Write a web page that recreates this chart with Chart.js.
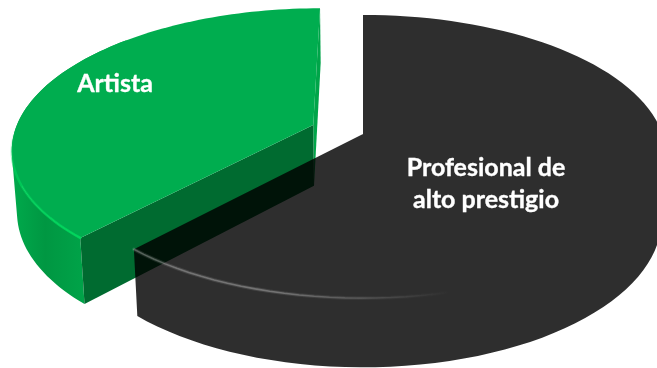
<!DOCTYPE html>
<html>
<head>
<meta charset="utf-8">
<title>Profesional de alto prestigio / Artista</title>
<script src="https://cdn.jsdelivr.net/npm/chart.js@4"></script>
<style>
    html, body { margin: 0; padding: 0; background: #fff; overflow: hidden; }
    #wrap { position: relative; width: 657px; height: 368px; }
</style>
</head>
<body>
<div id="wrap"><canvas id="pieChart"></canvas></div>
<script>
// Slices, clockwise from 12 o'clock
const categories = [['Profesional de', 'alto prestigio'], ['Artista']];
const shares = [61.8, 38.2];
const sliceBlown = [0, 0.18];

// Tilted-disc camera, in units of the chart radius
const tilt = { sx: 2.235, sy: 1.03, k: 0.159, depth: 61, wallSx: 0.985, wallSy: 1.05 };

// Map a point of the unit disc to the screen, on the top face or the bottom face
function project(arc, u, v, bottom) {
    const w = 1 - tilt.k * v;
    const r = arc.outerRadius;
    const ax = bottom ? tilt.sx * tilt.wallSx : tilt.sx;
    const ay = bottom ? tilt.sy * tilt.wallSy : tilt.sy;
    return {
        x: arc.x + r * ax * u / w,
        y: arc.y + (bottom ? tilt.depth : 0) + r * ay * v / w
    };
}

// Sample the rim of a slice between its two library angles
function rimPoints(arc, blown, bottom) {
    const mid = (arc.startAngle + arc.endAngle) / 2;
    const ox = Math.cos(mid) * blown, oy = Math.sin(mid) * blown;
    const pts = [];
    const steps = 90;
    for (let i = 0; i <= steps; i++) {
        const a = arc.startAngle + (arc.endAngle - arc.startAngle) * i / steps;
        pts.push(project(arc, ox + Math.cos(a), oy + Math.sin(a), bottom));
    }
    return pts;
}

function apexPoint(arc, blown, bottom) {
    const mid = (arc.startAngle + arc.endAngle) / 2;
    return project(arc, Math.cos(mid) * blown, Math.sin(mid) * blown, bottom);
}

// Add a polygon with a fixed winding so overlapping pieces fill as one shape
function addPoly(ctx, pts) {
    let area = 0;
    pts.forEach((p, i) => {
        const q = pts[(i + 1) % pts.length];
        area += p.x * q.y - q.x * p.y;
    });
    const list = area < 0 ? pts.slice().reverse() : pts;
    ctx.moveTo(list[0].x, list[0].y);
    list.slice(1).forEach(p => ctx.lineTo(p.x, p.y));
    ctx.closePath();
}

function addWall(ctx, topRim, botRim, count) {
    for (let i = 1; i <= count; i++) {
        addPoly(ctx, [topRim[i - 1], topRim[i], botRim[i], botRim[i - 1]]);
    }
}

function fillPoly(ctx, pts, fill) {
    ctx.beginPath();
    addPoly(ctx, pts);
    ctx.fillStyle = fill;
    ctx.fill();
}

function strokeLine(ctx, pts, style, width) {
    ctx.beginPath();
    pts.forEach((p, i) => i ? ctx.lineTo(p.x, p.y) : ctx.moveTo(p.x, p.y));
    ctx.strokeStyle = style;
    ctx.lineWidth = width;
    ctx.lineCap = 'round';
    ctx.stroke();
}

// Green slice: walls first, then the top face and the lit rim
function drawGreenSlice(ctx, arc, blown) {
    const topRim = rimPoints(arc, blown, false);
    const botRim = rimPoints(arc, blown, true);
    const apexTop = apexPoint(arc, blown, false);
    const apexBot = apexPoint(arc, blown, true);

    // Far cut wall, only a sliver of it shows past the top face
    fillPoly(ctx, [topRim[90], apexTop, apexBot, botRim[90]], '#00a549');

    const wallFill = ctx.createLinearGradient(12, 0, 86, 0);
    wallFill.addColorStop(0, '#00aa4c');
    wallFill.addColorStop(0.45, '#009742');
    wallFill.addColorStop(1, '#00a449');
    ctx.beginPath();
    addWall(ctx, topRim, botRim, 60);
    ctx.fillStyle = wallFill;
    ctx.fill();

    fillPoly(ctx, [topRim[0], apexTop, apexBot, botRim[0]], '#006b30');

    fillPoly(ctx, topRim.concat([apexTop]), '#00ad4f');

    const rimLight = ctx.createLinearGradient(80, 236, 14, 130);
    rimLight.addColorStop(0, 'rgba(0, 214, 92, 0.95)');
    rimLight.addColorStop(0.7, 'rgba(0, 214, 92, 0.6)');
    rimLight.addColorStop(1, 'rgba(0, 214, 92, 0)');
    strokeLine(ctx, topRim.slice(0, 40), rimLight, 2.4);
}

// Dark slice: see-through black, top and walls filled as a single shape
function drawDarkSlice(ctx, arc, blown) {
    const topRim = rimPoints(arc, blown, false);
    const botRim = rimPoints(arc, blown, true);
    const apexTop = apexPoint(arc, blown, false);
    const apexBot = apexPoint(arc, blown, true);

    ctx.beginPath();
    addPoly(ctx, topRim.concat([apexTop]));
    addPoly(ctx, botRim.concat([apexBot]));
    addWall(ctx, topRim, botRim, 90);
    addPoly(ctx, [topRim[90], apexTop, apexBot, botRim[90]]);
    ctx.fillStyle = 'rgba(0, 0, 0, 0.82)';
    ctx.fill();

    // Fading highlight along the front edge of the top face, soft halo then core
    const makeGlint = (peak) => {
        const glint = ctx.createLinearGradient(134, 0, 450, 0);
        glint.addColorStop(0, `rgba(255, 255, 255, ${peak})`);
        glint.addColorStop(0.45, `rgba(255, 255, 255, ${peak})`);
        glint.addColorStop(1, 'rgba(255, 255, 255, 0)');
        return glint;
    };
    strokeLine(ctx, topRim.slice(52), makeGlint(0.1), 3.6);
    strokeLine(ctx, topRim.slice(52), makeGlint(0.26), 1.6);
}

const extrudedPie = {
    id: 'extrudedPie',
    beforeDatasetDraw(chart, args) {
        const ctx = chart.ctx;
        const arcs = args.meta.data;
        ctx.save();
        drawGreenSlice(ctx, arcs[1], sliceBlown[1]);
        drawDarkSlice(ctx, arcs[0], sliceBlown[0]);
        ctx.restore();
        return false;
    },
    afterDatasetsDraw(chart) {
        const ctx = chart.ctx;
        const spots = [{ x: 486, y: 184 }, { x: 115, y: 84 }];
        ctx.save();
        ctx.font = 'bold 25px Lato, sans-serif';
        ctx.fillStyle = '#ffffff';
        ctx.strokeStyle = '#ffffff';
        ctx.lineWidth = 0.35;
        ctx.textAlign = 'center';
        ctx.textBaseline = 'middle';
        chart.data.labels.forEach((lines, i) => {
            lines.forEach((line, n) => {
                const y = spots[i].y + (n - (lines.length - 1) / 2) * 32;
                ctx.fillText(line, spots[i].x, y);
                ctx.strokeText(line, spots[i].x, y);
            });
        });
        ctx.restore();
    }
};

document.addEventListener('DOMContentLoaded', function() {
    new Chart(document.getElementById('pieChart'), {
        type: 'pie',
        data: {
            labels: categories,
            datasets: [{ data: shares, borderWidth: 0 }]
        },
        options: {
            responsive: true,
            maintainAspectRatio: false,
            animation: false,
            // Puts the disc centre where the slices meet
            layout: { padding: { left: 69, right: 0, top: 0, bottom: 100 } },
            plugins: {
                legend: { display: false },
                tooltip: { enabled: false }
            }
        },
        plugins: [extrudedPie]
    });
});
</script>
</body>
</html>
